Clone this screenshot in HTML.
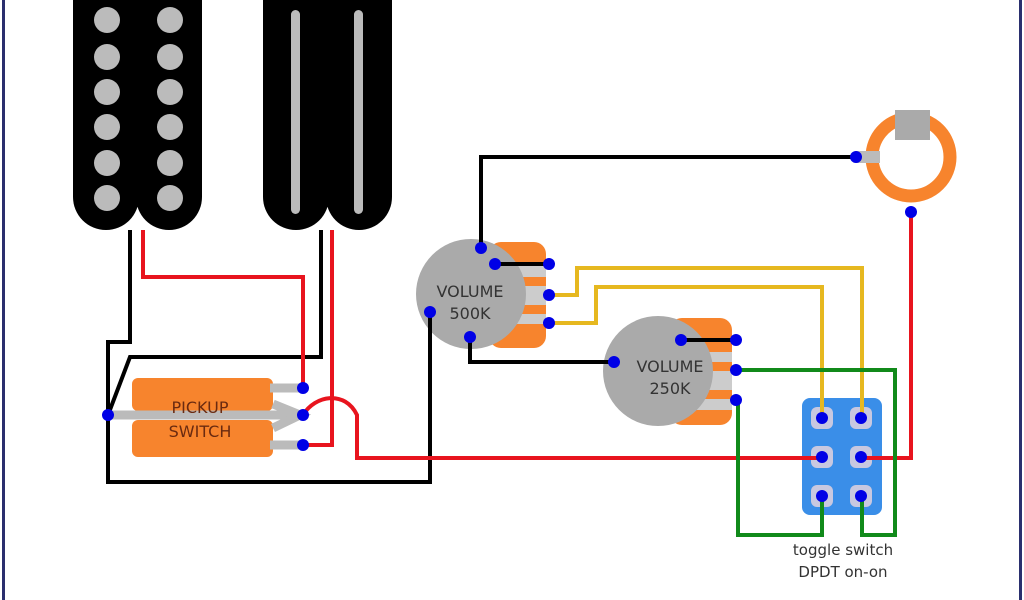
<!DOCTYPE html>
<html><head><meta charset="utf-8"><style>
html,body{margin:0;padding:0;background:#fff;}
svg{display:block;}
text{font-family:"DejaVu Sans","Liberation Sans",sans-serif;}
</style></head><body>
<svg width="1024" height="600" viewBox="0 0 1024 600" xmlns="http://www.w3.org/2000/svg">
<rect width="1024" height="600" fill="#fff"/>
<rect x="2" y="0" width="3" height="600" fill="#2a2f6e"/>
<rect x="1019" y="0" width="3" height="600" fill="#2a2f6e"/>

<rect x="73" y="-40" width="66" height="270" rx="33" fill="#000"/>
<rect x="136" y="-40" width="66" height="270" rx="33" fill="#000"/>
<g fill="#bbb">
<circle cx="107" cy="20" r="13"/><circle cx="107" cy="57" r="13"/><circle cx="107" cy="92" r="13"/><circle cx="107" cy="127" r="13"/><circle cx="107" cy="163" r="13"/><circle cx="107" cy="198" r="13"/>
<circle cx="170" cy="20" r="13"/><circle cx="170" cy="57" r="13"/><circle cx="170" cy="92" r="13"/><circle cx="170" cy="127" r="13"/><circle cx="170" cy="163" r="13"/><circle cx="170" cy="198" r="13"/>
</g>
<rect x="263" y="-40" width="66" height="270" rx="33" fill="#000"/>
<rect x="326" y="-40" width="66" height="270" rx="33" fill="#000"/>
<rect x="291" y="10" width="9" height="204" rx="4.5" fill="#bbb"/>
<rect x="354" y="10" width="9" height="204" rx="4.5" fill="#bbb"/>

<rect x="132" y="378" width="141" height="33" rx="6" fill="#f7842d"/>
<rect x="132" y="420" width="141" height="37" rx="6" fill="#f7842d"/>
<g stroke="#bbb" stroke-width="9" fill="none">
<line x1="108" y1="415" x2="300" y2="415"/>
<line x1="270" y1="388" x2="303" y2="388"/>
<line x1="270" y1="445" x2="303" y2="445"/>
<polyline points="273,404 300,415 273,428"/>
</g>
<text x="200" y="413" font-size="16" fill="#6a2a10" text-anchor="middle">PICKUP</text>
<text x="200" y="437" font-size="16" fill="#6a2a10" text-anchor="middle">SWITCH</text>

<circle cx="911" cy="157" r="39" fill="none" stroke="#f7842d" stroke-width="13"/>
<rect x="895" y="110" width="35" height="30" fill="#aaa"/>
<line x1="856" y1="157" x2="880" y2="157" stroke="#bbb" stroke-width="12"/>

<rect x="489" y="242" width="57" height="106" rx="12" fill="#f7842d"/>
<rect x="500" y="266" width="46" height="58" fill="#ccc"/>
<rect x="500" y="277" width="46" height="9" fill="#f7842d"/>
<rect x="500" y="305" width="46" height="9" fill="#f7842d"/>
<circle cx="471" cy="294" r="55" fill="#aaa"/>
<text x="470" y="297" font-size="16" fill="#333" text-anchor="middle">VOLUME</text>
<text x="470" y="319" font-size="16" fill="#333" text-anchor="middle">500K</text>

<rect x="670" y="318" width="62" height="107" rx="12" fill="#f7842d"/>
<rect x="685" y="352" width="47" height="58" fill="#ccc"/>
<rect x="685" y="362" width="47" height="9" fill="#f7842d"/>
<rect x="685" y="390" width="47" height="9" fill="#f7842d"/>
<circle cx="658" cy="371" r="55" fill="#aaa"/>
<text x="670" y="372" font-size="16" fill="#333" text-anchor="middle">VOLUME</text>
<text x="670" y="394" font-size="16" fill="#333" text-anchor="middle">250K</text>

<rect x="802" y="398" width="80" height="117" rx="8" fill="#3a8ee8"/>
<g fill="#c8c8e0">
<rect x="811" y="407" width="22" height="22" rx="6"/><rect x="850" y="407" width="22" height="22" rx="6"/>
<rect x="811" y="446" width="22" height="22" rx="6"/><rect x="850" y="446" width="22" height="22" rx="6"/>
<rect x="811" y="485" width="22" height="22" rx="6"/><rect x="850" y="485" width="22" height="22" rx="6"/>
</g>
<text x="843" y="555" font-size="15" fill="#333" text-anchor="middle">toggle switch</text>
<text x="843" y="577" font-size="15" fill="#333" text-anchor="middle">DPDT on-on</text>

<g fill="none" stroke-width="4" stroke-linejoin="miter">
<polyline stroke="#000" points="130,230 130,342 108,342 108,482 430,482 430,312"/>
<polyline stroke="#000" points="321,230 321,357 130,357 108,415"/>
<polyline stroke="#000" points="481,248 481,157 855,157"/>
<polyline stroke="#000" points="495,264 549,264"/>
<polyline stroke="#000" points="470,337 470,362 614,362"/>
<polyline stroke="#000" points="681,340 736,340"/>
<polyline stroke="#e8141e" points="143,230 143,277 303,277 303,388"/>
<polyline stroke="#e8141e" points="332,230 332,445 303,445"/>
<path stroke="#e8141e" d="M303,415 C315,395 345,390 357,415 L357,458 L822,458"/>
<polyline stroke="#e8141e" points="861,458 911,458 911,212"/>
<polyline stroke="#e6b820" points="549,295 577,295 577,268 862,268 862,418"/>
<polyline stroke="#e6b820" points="549,323 596,323 596,287 822,287 822,418"/>
<polyline stroke="#118a1a" points="736,370 895,370 895,535 862,535 862,496"/>
<polyline stroke="#118a1a" points="736,400 738,400 738,535 822,535 822,496"/>
</g>

<g fill="#0000e6">
<circle cx="303" cy="388" r="6"/><circle cx="303" cy="415" r="6"/><circle cx="303" cy="445" r="6"/><circle cx="108" cy="415" r="6"/>
<circle cx="481" cy="248" r="6"/><circle cx="495" cy="264" r="6"/><circle cx="549" cy="264" r="6"/><circle cx="549" cy="295" r="6"/><circle cx="549" cy="323" r="6"/><circle cx="470" cy="337" r="6"/><circle cx="430" cy="312" r="6"/>
<circle cx="614" cy="362" r="6"/><circle cx="681" cy="340" r="6"/><circle cx="736" cy="340" r="6"/><circle cx="736" cy="370" r="6"/><circle cx="736" cy="400" r="6"/>
<circle cx="856" cy="157" r="6"/><circle cx="911" cy="212" r="6"/>
<circle cx="822" cy="418" r="6"/><circle cx="861" cy="418" r="6"/><circle cx="822" cy="457" r="6"/><circle cx="861" cy="457" r="6"/><circle cx="822" cy="496" r="6"/><circle cx="861" cy="496" r="6"/>
</g>
</svg>
</body></html>
